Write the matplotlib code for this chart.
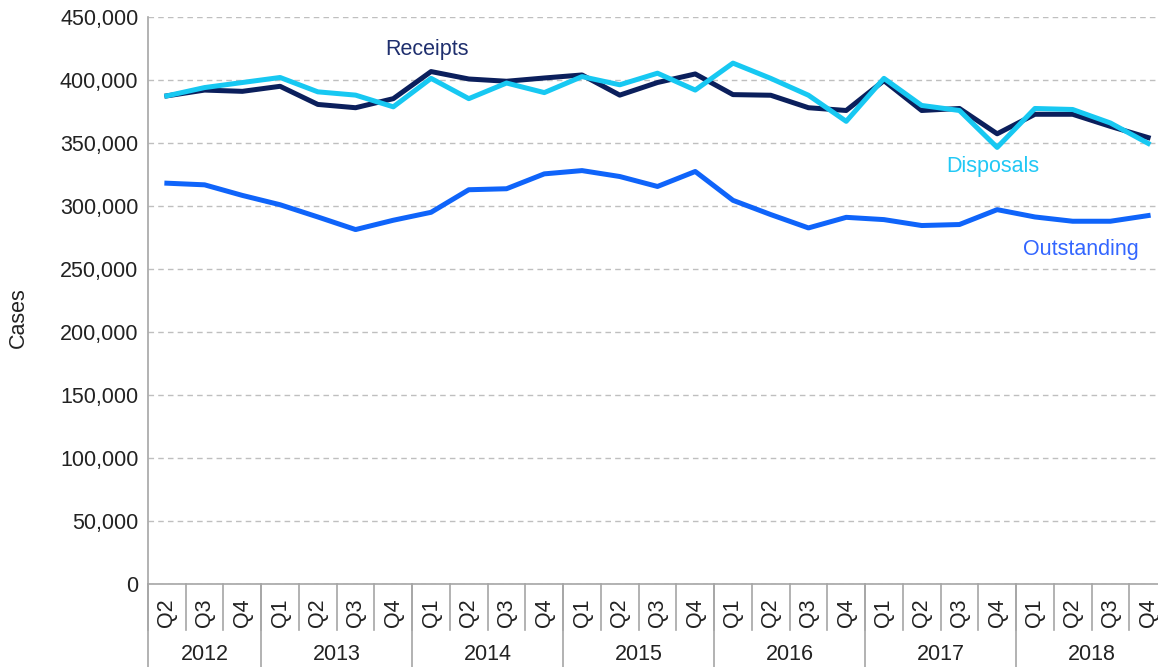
import matplotlib
matplotlib.use('Agg')
import matplotlib.pyplot as plt
import matplotlib.transforms as mtransforms
from matplotlib.ticker import FuncFormatter

plt.rcParams['font.family'] = ['Liberation Sans', 'DejaVu Sans']

years = ['2012', '2013', '2014', '2015', '2016', '2017', '2018']
quarters = ['Q2', 'Q3', 'Q4'] + ['Q1', 'Q2', 'Q3', 'Q4'] * 6
year_counts = [3, 4, 4, 4, 4, 4, 4]

receipts = [387400, 392000, 391000, 395000, 380600, 378000, 385200, 406700, 400800,
            399000, 401600, 404000, 388000, 398000, 404800, 388400, 387900, 378000,
            375800, 399500, 375800, 377400, 357300, 372800, 372800, 363200, 354300]
disposals = [387400, 394000, 398000, 402000, 390600, 388000, 378700, 401300, 385200,
             397600, 390000, 402700, 396200, 405400, 392000, 413400, 401300, 387900,
             367200, 401300, 379800, 375800, 346500, 377400, 376600, 365900, 349700]
outstanding = [318100, 316800, 308400, 301000, 291300, 281300, 288700, 295000, 312900,
               313700, 325500, 328100, 323400, 315500, 327400, 304500, 293200, 282600,
               291000, 289200, 284500, 285300, 297100, 291300, 287900, 287900, 292400]

c_rec = '#0b1f5c'
c_dis = '#17c8f2'
c_out = '#0f64fa'
grey = '#a6a6a6'

W, H = 1158, 667
fig = plt.figure(figsize=(W / 100, H / 100), dpi=100)
ax = fig.add_axes([148 / W, 1 - 584 / H, (1167 - 148) / W, (584 - 17) / H])

x = list(range(len(quarters)))
ax.plot(x, receipts, color=c_rec, lw=3.6, solid_joinstyle='round', zorder=3)
ax.plot(x, disposals, color=c_dis, lw=3.6, solid_joinstyle='round', zorder=4)
ax.plot(x, outstanding, color=c_out, lw=3.6, solid_joinstyle='round', zorder=3)

ax.set_xlim(-0.5, len(quarters) - 0.5)
ax.set_ylim(0, 450000)
ax.set_yticks(range(0, 450001, 50000))
ax.yaxis.set_major_formatter(FuncFormatter(lambda v, p: f'{int(v):,}'))
ax.tick_params(axis='y', length=0, pad=7, labelsize=15.5, colors='#222222')
ax.set_xticks([])
ax.grid(axis='y', color='#bfbfbf', ls=(0, (4, 3)), lw=1)
ax.set_axisbelow(True)

for s in ['top', 'right']:
    ax.spines[s].set_visible(False)
ax.spines['left'].set_color(grey)
ax.spines['bottom'].set_color(grey)
ax.spines['left'].set_linewidth(1.2)
ax.spines['bottom'].set_linewidth(1.2)

trans = mtransforms.blended_transform_factory(ax.transData, ax.transAxes)
q_bottom = -(630 - 584) / 567
y_bottom = -(667 - 584) / 567

# quarter separators and labels
for i, q in enumerate(quarters):
    ax.plot([i - 0.5, i - 0.5], [0, q_bottom], color=grey, lw=1.2,
            transform=trans, clip_on=False)
    ax.text(i, -(613 - 584) / 567, q, transform=trans, rotation=90,
            ha='center', va='center', fontsize=15.5, color='#222222')

# year separators and labels
start = -0.5
for yr, n in zip(years, year_counts):
    ax.plot([start, start], [0, y_bottom], color=grey, lw=1.2,
            transform=trans, clip_on=False)
    ax.text(start + n / 2, -(655 - 584) / 567, yr, transform=trans,
            ha='center', va='center', fontsize=15.5, color='#222222')
    start += n
ax.plot([start, start], [0, y_bottom], color=grey, lw=1.2,
        transform=trans, clip_on=False)

ax.text(6.89, 424600, 'Receipts', color='#1f2f6e', fontsize=15.5, ha='center', va='center')
ax.text(21.88, 331700, 'Disposals', color='#22c8f5', fontsize=15.5, ha='center', va='center')
ax.text(24.22, 265100, 'Outstanding', color='#3366ff', fontsize=15.5, ha='center', va='center')

fig.text(18 / W, 1 - 318 / H, 'Cases', rotation=90, ha='center', va='center',
         fontsize=15.5, color='#222222')

fig.savefig('out.png', dpi=100)
